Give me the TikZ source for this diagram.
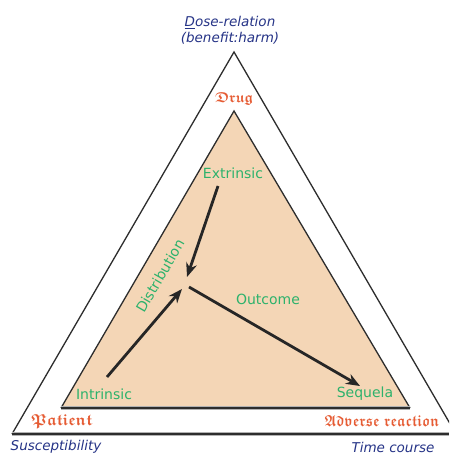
\documentclass[tikz,border=0pt]{standalone}
\usepackage{fontspec}
\usepackage{amssymb}
\usepackage{graphicx}
\usetikzlibrary{arrows.meta}
\newfontfamily\lblfont{DejaVu Sans}
\definecolor{peach}{RGB}{244,214,182}
\definecolor{lblgreen}{RGB}{45,178,108}
\definecolor{frakred}{RGB}{230,92,52}
\definecolor{dblue}{RGB}{38,52,135}
\definecolor{edgecol}{RGB}{45,45,45}
\newcommand\frk[3]{\resizebox{#1}{#2}{\boldmath$\mathfrak{#3}$}}
\begin{document}
\begin{tikzpicture}[x=1pt,y=-1pt,
  glabel/.style={text=lblgreen,font=\lblfont\fontsize{14}{16}\selectfont,inner sep=0pt},
  blabel/.style={text=dblue,font=\lblfont\itshape\fontsize{13.5}{16}\selectfont,inner sep=0pt,align=center},
  flabel/.style={text=frakred,inner sep=0pt},
  sideline/.style={draw=edgecol,line width=1.3pt},
  baseback/.style={draw=gray!60,line width=3.2pt},
  basefront/.style={draw=edgecol,line width=1.3pt},
  arr/.style={line width=2.8pt,draw=black!85,-{Stealth[length=14pt,width=11pt]}}]
\clip (0,0) rectangle (449,454);
\fill[white] (0,0) rectangle (449,454);
% outer triangle
\coordinate (OA) at (234,52);
\coordinate (OL) at (12,434);
\coordinate (OR) at (456,434);
\coordinate (OE) at (449,434);
% inner triangle
\coordinate (IA) at (234,111);
\coordinate (IL) at (61,408);
\coordinate (IR) at (410,408);
\fill[peach] (IA) -- (IL) -- (IR) -- cycle;
\draw[sideline,line join=miter] (IL) -- (IA) -- (IR);
\draw[baseback] (IL) -- (IR);
\draw[basefront] (IL) -- (IR);
\draw[sideline,line join=miter] (OL) -- (OA) -- (OR);
\draw[baseback] (OL) -- (OE);
\draw[basefront] (OL) -- (OE);
% blue labels
\node[blabel] (dose) at (230,30) {\underline{D}ose-relation\\(benefit:harm)};
\node[blabel] (susc) at (56,447) {Susceptibility};
\node[blabel] (time) at (393,447) {Time course};
% fraktur labels
\node[flabel] (drug) at (234,99) {\frk{38pt}{10pt}{Drug}};
\node[flabel] (patient) at (62,421) {\frk{61pt}{11pt}{Patient}};
\node[flabel] (adverse) at (382,421) {\frk{115pt}{11pt}{Adverse\ reaction}};
% green labels
\node[glabel] (ext) at (233,173) {Extrinsic};
\node[glabel] (int) at (104,394) {Intrinsic};
\node[glabel] (seq) at (365,394) {Sequela};
\node[glabel] (out) at (268,299) {Outcome};
\node[glabel,rotate=60] (dist) at (160,276) {Distribution};
% arrows
\coordinate (extTail) at (218,186);
\coordinate (hubE) at (187,277);
\coordinate (intTail) at (107,377);
\coordinate (hubI) at (182,289);
\coordinate (seqTail) at (189,287);
\coordinate (seqHead) at (360,386);
\draw[arr] (extTail) -- (hubE);
\draw[arr] (intTail) -- (hubI);
\draw[arr] (seqTail) -- (seqHead);
\end{tikzpicture}
\end{document}
